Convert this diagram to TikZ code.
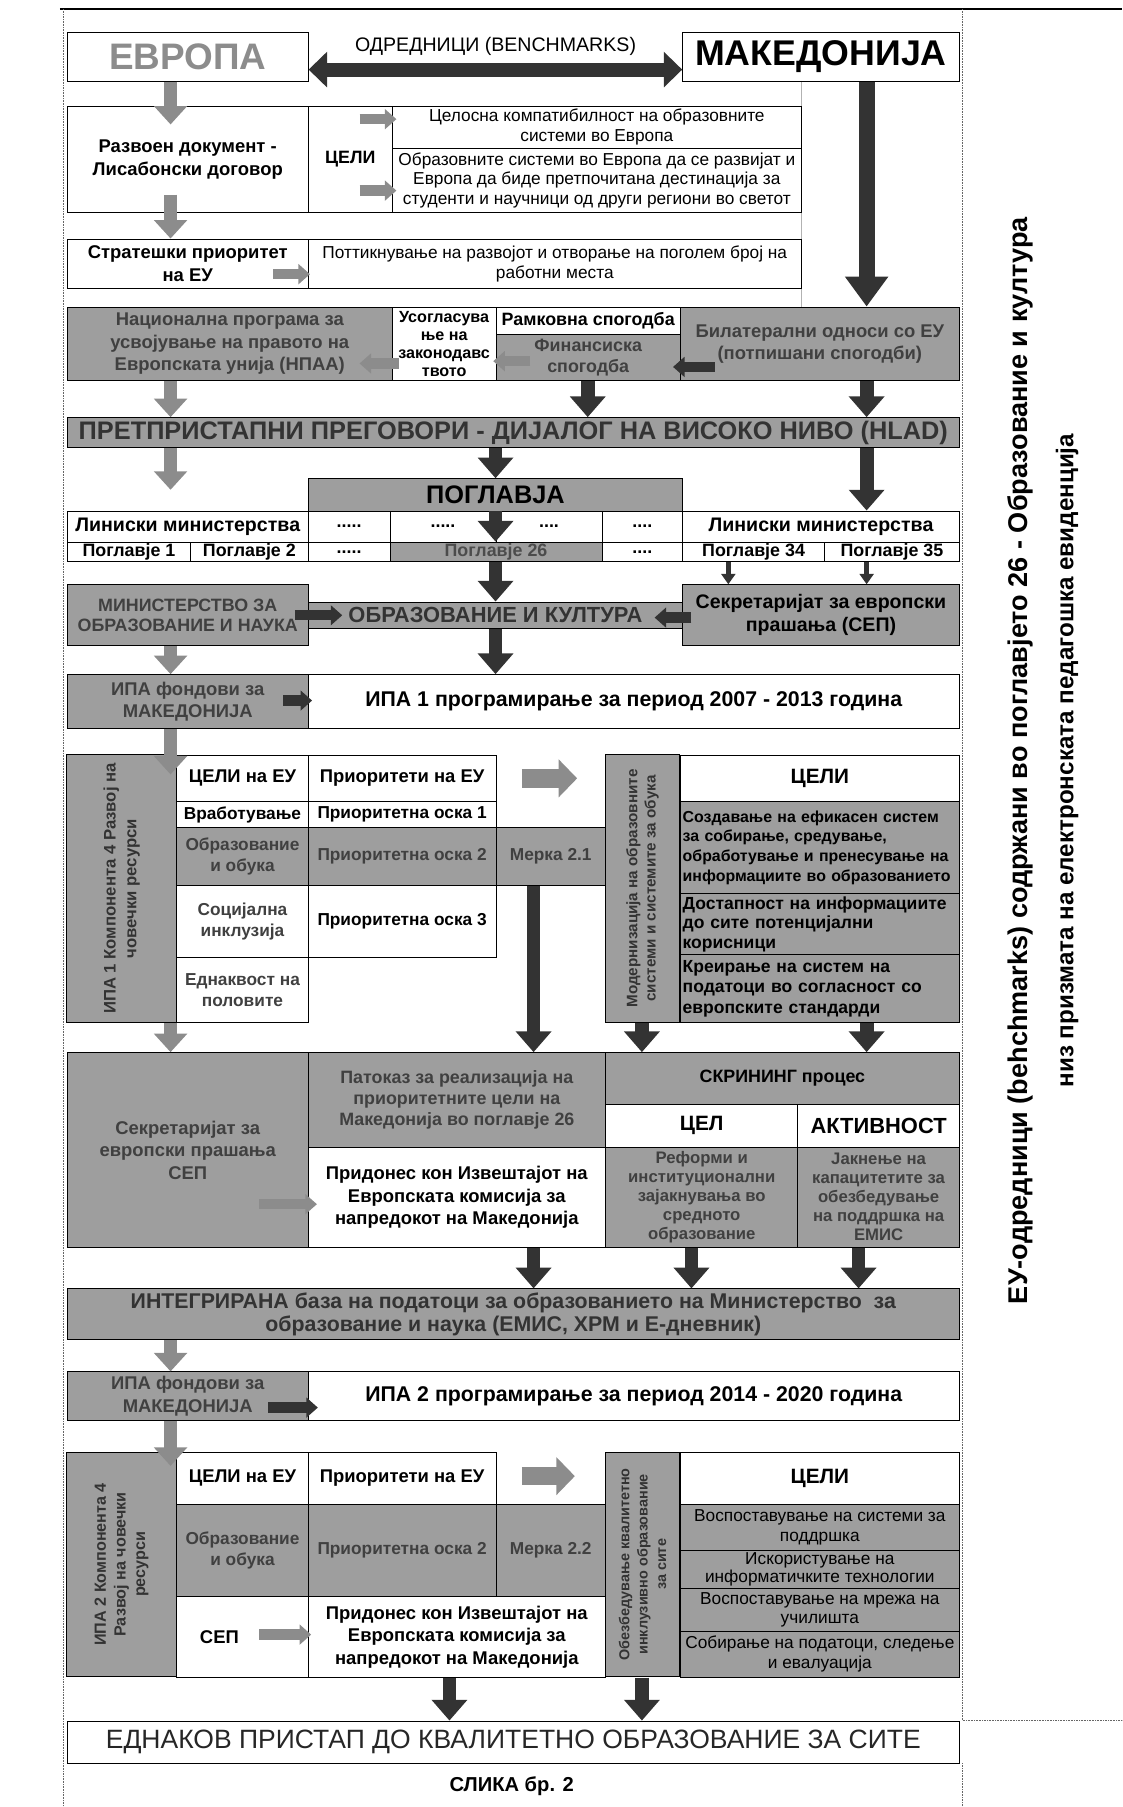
\documentclass[tikz,border=0pt]{standalone}
\usepackage{fontspec}
\setmainfont{Liberation Sans}
\usetikzlibrary{arrows.meta,calc}

\definecolor{boxgrey}{gray}{0.62}
\definecolor{arrgrey}{gray}{0.55}
\definecolor{arrdark}{gray}{0.2}

\tikzset{
  cell/.style={draw=black,line width=0.8pt,inner sep=1pt,anchor=north west,align=center},
  grey/.style={fill=boxgrey},
  fn/.style={font=\fontsize{15}{17}\selectfont},
  fb/.style={font=\fontsize{16}{19.5}\selectfont\bfseries},
  fm/.style={font=\fontsize{15}{18.5}\selectfont\bfseries},
  fs/.style={font=\fontsize{15.5}{18}\selectfont\bfseries},
  fh/.style={font=\fontsize{18}{20}\selectfont\bfseries},
  garr/.style={line width=12pt,draw=arrgrey,-{Triangle[length=16pt,width=28pt]}},
  darr/.style={line width=12pt,draw=arrdark,-{Triangle[length=18pt,width=30pt]}},
  thinarr/.style={line width=4pt,draw=arrdark,-{Triangle[length=9pt,width=12pt]}},
  sgarr/.style={line width=9pt,draw=arrgrey,-{Triangle[length=10pt,width=17pt]}},
  sdarr/.style={line width=9pt,draw=arrdark,-{Triangle[length=10pt,width=17pt]}},
  hgarr/.style={line width=16pt,draw=arrgrey,-{Triangle[length=16pt,width=32pt]}},
}

% cell: name, x, y (top left), width, height, style, text
\newcommand{\cellnode}[7]{\node[cell,#6,minimum width=#4pt,minimum height=#5pt] (#1) at (#2,#3) {#7};}
% same, text turned by 90 degrees
\newcommand{\vcellnode}[7]{\node[cell,#6,anchor=center,rotate=90,minimum width=#5pt,minimum height=#4pt] (#1) at ({#2+#4/2},{#3+#5/2}) {#7};}

\begin{document}
\begin{tikzpicture}[x=1pt,y=-1pt]
  \useasboundingbox (0,0) rectangle (974,1568);
  % frame
  \draw[line width=1.5pt] (52,8) -- (974,8);
  \draw[densely dotted,black!60] (55,8) -- (55,1568);
  \draw[densely dotted,black!60] (835,8) -- (835,1493) -- (974,1493);
  \draw[densely dotted,black!60] (835,1530) -- (835,1568);
  \draw[black!30] (695,70) -- (695,266);

  \coordinate (xl) at (148,0);
  \coordinate (xb) at (390,0);
  \coordinate (xc) at (430,0);
  \coordinate (xm) at (463,0);
  \coordinate (xf) at (510,0);
  \coordinate (xs) at (557,0);
  \coordinate (xt) at (600,0);
  \coordinate (xp) at (632,0);
  \coordinate (xa) at (745,0);
  \coordinate (xr) at (752,0);

  % top
  \cellnode{evr}{58}{28}{209}{42}{font=\fontsize{32}{34}\selectfont\bfseries,text=black!45}{ЕВРОПА}
  \cellnode{mkd}{592}{28}{240}{42}{font=\fontsize{31}{34}\selectfont\bfseries}{МАКЕДОНИЈА}
  \node[font=\fontsize{17}{19}\selectfont] (odr) at (430,40) {ОДРЕДНИЦИ (BENCHMARKS)};

  \cellnode{razv}{58}{92}{209}{92}{fb}{Развоен документ -\\Лисабонски договор}
  \cellnode{celi}{267}{92}{73}{92}{fs}{ЦЕЛИ}
  \cellnode{celA}{340}{92}{355}{36}{fn}{Целосна компатибилност на образовните\\системи во Европа}
  \cellnode{celB}{340}{128}{355}{56}{fn}{Образовните системи во Европа да се развијат и\\Европа да биде претпочитана дестинација за\\студенти и научници од други региони во светот}

  \cellnode{strat}{58}{207}{209}{43}{fb}{Стратешки приоритет\\на ЕУ}
  \cellnode{pott}{267}{207}{428}{43}{fn}{Поттикнување на развојот и отворање на поголем број на\\работни места}

  \cellnode{npaa}{58}{266}{282}{64}{grey,fb,text=black!75}{Национална програма за\\усвојување на правото на\\Европската унија (НПАА)}
  \cellnode{usog}{340}{266}{90}{64}{font=\fontsize{14}{15.5}\selectfont\bfseries}{Усогласува\\ње на\\законодавс\\твото}
  \cellnode{ramk}{430}{266}{160}{24}{fs}{Рамковна спогодба}
  \cellnode{fin}{430}{290}{160}{40}{grey,fs,text=black!75}{Финансиска\\спогодба}
  \cellnode{bil}{590}{266}{242}{64}{grey,fb,text=black!75}{Билатерални односи со ЕУ\\(потпишани спогодби)}

  \cellnode{pret}{58}{362}{774}{26}{grey,inner sep=0pt,font=\fontsize{22}{24}\selectfont\bfseries,text=black!80}{ПРЕТПРИСТАПНИ ПРЕГОВОРИ - ДИЈАЛОГ НА ВИСОКО НИВО (HLAD)}

  % chapters
  \cellnode{pogl}{267}{415}{325}{28}{grey,inner sep=0pt,font=\fontsize{22}{24}\selectfont\bfseries}{ПОГЛАВЈА}
  \cellnode{linA}{58}{443}{209}{27}{font=\fontsize{17}{19}\selectfont\bfseries}{Линиски министерства}
  \cellnode{dA}{267}{443}{71}{27}{fs}{.....}
  \cellnode{dB}{338}{443}{92}{27}{fs}{.....}
  \cellnode{dC}{430}{443}{92}{27}{fs}{....}
  \cellnode{dD}{522}{443}{70}{27}{fs}{....}
  \cellnode{linB}{592}{443}{240}{27}{font=\fontsize{17}{19}\selectfont\bfseries}{Линиски министерства}
  \cellnode{pA}{58}{470}{107}{17}{fs,inner sep=0pt}{Поглавје 1}
  \cellnode{pB}{165}{470}{102}{17}{fs,inner sep=0pt}{Поглавје 2}
  \cellnode{dE}{267}{470}{71}{17}{fs,inner sep=0pt}{.....}
  \cellnode{p26}{338}{470}{184}{17}{grey,fs,inner sep=0pt,text=black!70}{Поглавје 26}
  \cellnode{dF}{522}{470}{70}{17}{fs,inner sep=0pt}{....}
  \cellnode{pC}{592}{470}{123}{17}{fs,inner sep=0pt}{Поглавје 34}
  \cellnode{pD}{715}{470}{117}{17}{fs,inner sep=0pt}{Поглавје 35}

  \cellnode{mon}{58}{507}{209}{53}{grey,fs,text=black!75}{МИНИСТЕРСТВО ЗА\\ОБРАЗОВАНИЕ И НАУКА}
  \cellnode{oik}{267}{522}{325}{23}{grey,inner sep=0pt,font=\fontsize{19}{21}\selectfont\bfseries,text=black!80}{ОБРАЗОВАНИЕ И КУЛТУРА}
  \cellnode{sep}{592}{507}{240}{53}{grey,font=\fontsize{17}{20}\selectfont\bfseries}{Секретаријат за европски\\прашања (СЕП)}

  \cellnode{ipafA}{58}{585}{209}{47}{grey,fb,text=black!75}{ИПА фондови за\\МАКЕДОНИЈА}
  \cellnode{ipaA}{267}{585}{565}{47}{font=\fontsize{18.5}{21}\selectfont\bfseries}{ИПА 1 програмирање за период 2007 - 2013 година}

  % IPA 1
  \vcellnode{komA}{58}{655}{95}{232}{grey,font=\fontsize{14.5}{18}\selectfont\bfseries,text=black!80}{ИПА 1 Компонента 4 Развој на\\човечки ресурси}
  \cellnode{ceuA}{153}{655}{114}{40}{fb}{ЦЕЛИ на ЕУ}
  \cellnode{vrab}{153}{695}{114}{23}{fm,inner sep=0pt}{Вработување}
  \cellnode{obuA}{153}{718}{114}{50}{grey,fm,text=black!75}{Образование\\и обука}
  \cellnode{soc}{153}{768}{114}{62}{fm,text=black!75}{Социјална\\инклузија}
  \cellnode{edn}{153}{830}{114}{57}{fm,text=black!75}{Еднаквост на\\половите}
  \cellnode{peuA}{267}{655}{163}{40}{fb}{Приоритети на ЕУ}
  \cellnode{poA}{267}{695}{163}{23}{fm,inner sep=0pt}{Приоритетна оска 1}
  \cellnode{poB}{267}{718}{163}{50}{grey,fm,text=black!75}{Приоритетна оска 2}
  \cellnode{poC}{267}{768}{163}{62}{fm}{Приоритетна оска 3}
  \cellnode{mrkA}{430}{718}{95}{50}{grey,fm,text=black!75}{Мерка 2.1}
  \vcellnode{modr}{525}{655}{65}{232}{grey,font=\fontsize{13.2}{16}\selectfont\bfseries,text=black!80}{Модернизација на образовните\\системи и системите за обука}
  \cellnode{celiA}{590}{655}{242}{40}{fh}{ЦЕЛИ}
  \cellnode{gA}{590}{695}{242}{80}{grey,font=\fontsize{13.8}{17}\selectfont\bfseries,align=left,text width=238pt}{Создавање на ефикасен систем\\за собирање, средување,\\обработување и пренесување на\\информациите во образованието}
  \cellnode{gB}{590}{775}{242}{53}{grey,font=\fontsize{15.2}{17}\selectfont\bfseries,align=left,text width=238pt}{Достапност на информациите\\до сите потенцијални\\корисници}
  \cellnode{gC}{590}{828}{242}{59}{grey,font=\fontsize{15.2}{18}\selectfont\bfseries,align=left,text width=238pt}{Креирање на систем на\\податоци во согласност со\\европските стандарди}

  \cellnode{sepB}{58}{913}{209}{169}{grey,fb,text=black!75}{Секретаријат за\\европски прашања\\СЕП}
  \cellnode{pat}{267}{913}{258}{82}{grey,fs,text=black!75}{Патоказ за реализација на\\приоритетните цели на\\Македонија во поглавје 26}
  \cellnode{pridA}{267}{995}{258}{87}{fb}{Придонес кон Извештајот на\\Европската комисија за\\напредокот на Македонија}
  \cellnode{skr}{525}{913}{307}{45}{grey,fs}{СКРИНИНГ процес}
  \cellnode{cel}{525}{958}{167}{37}{fh}{ЦЕЛ}
  \cellnode{akt}{692}{958}{140}{37}{font=\fontsize{19}{21}\selectfont\bfseries}{АКТИВНОСТ}
  \cellnode{ref}{525}{995}{167}{87}{grey,font=\fontsize{14.5}{16.5}\selectfont\bfseries,text=black!75}{Реформи и\\институционални\\зајакнувања во\\средното\\образование}
  \cellnode{jak}{692}{995}{140}{87}{grey,font=\fontsize{14.5}{16.5}\selectfont\bfseries,text=black!75}{Јакнење на\\капацитетите за\\обезбедување\\на поддршка на\\ЕМИС}

  \cellnode{intg}{58}{1118}{774}{44}{grey,font=\fontsize{18.5}{20}\selectfont\bfseries,text=black!80}{ИНТЕГРИРАНА база на податоци за образованието на Министерство\ \ за\\образование и наука (ЕМИС, ХРМ и Е-дневник)}

  \cellnode{ipafB}{58}{1190}{209}{42}{grey,fb,text=black!75}{ИПА фондови за\\МАКЕДОНИЈА}
  \cellnode{ipaB}{267}{1190}{565}{42}{font=\fontsize{18.5}{21}\selectfont\bfseries}{ИПА 2 програмирање за период 2014 - 2020 година}

  % IPA 2
  \vcellnode{komB}{58}{1260}{95}{195}{grey,font=\fontsize{14}{17}\selectfont\bfseries,text=black!80}{ИПА 2 Компонента 4\\Развој на човечки\\ресурси}
  \cellnode{ceuB}{153}{1260}{114}{45}{fb}{ЦЕЛИ на ЕУ}
  \cellnode{obuB}{153}{1305}{114}{80}{grey,fm,text=black!75}{Образование\\и обука}
  \cellnode{sepC}{153}{1385}{114}{70}{fb}{СЕП\hspace{40pt}}
  \cellnode{peuB}{267}{1260}{163}{45}{fb}{Приоритети на ЕУ}
  \cellnode{poD}{267}{1305}{163}{80}{grey,fm,text=black!75}{Приоритетна оска 2}
  \cellnode{mrkB}{430}{1305}{95}{80}{grey,fm,text=black!75}{Мерка 2.2}
  \cellnode{pridB}{267}{1385}{258}{70}{fb}{Придонес кон Извештајот на\\Европската комисија за\\напредокот на Македонија}
  \vcellnode{obz}{525}{1260}{65}{195}{grey,font=\fontsize{12.5}{16}\selectfont\bfseries,text=black!80}{Обезбедување квалитетно\\инклузивно образование\\за сите}
  \cellnode{celiB}{590}{1260}{242}{45}{fh}{ЦЕЛИ}
  \cellnode{hA}{590}{1305}{242}{40}{grey,fn}{Воспоставување на системи за\\поддршка}
  \cellnode{hB}{590}{1345}{242}{33}{grey,font=\fontsize{15}{15.5}\selectfont}{Искористување на\\информатичките технологии}
  \cellnode{hC}{590}{1378}{242}{37}{grey,fn}{Воспоставување на мрежа на\\училишта}
  \cellnode{hD}{590}{1415}{242}{40}{grey,fn}{Собирање на податоци, следење\\и евалуација}

  \cellnode{ednak}{58}{1493}{774}{37}{font=\fontsize{23}{25}\selectfont,text=black!85}{ЕДНАКОВ ПРИСТАП ДО КВАЛИТЕТНО ОБРАЗОВАНИЕ ЗА СИТЕ}
  \node[font=\fontsize{17.5}{19}\selectfont\bfseries] (slika) at (444,1550) {СЛИКА бр. 2};

  \node[rotate=90,align=center,font=\fontsize{21}{40}\selectfont\bfseries] (ttl) at (905,660)
    {{\fontsize{23.5}{40}\selectfont ЕУ-одредници (behchmarks) содржани во поглавјето 26 - Образование и култура}\\низ призмата на електронската педагошка евиденција};

  % arrows
  \draw[line width=12pt,draw=arrdark,{Triangle[length=16pt,width=30pt]}-{Triangle[length=16pt,width=30pt]}]
    ([yshift=-11pt]evr.east) -- ([yshift=-11pt]mkd.west);
  \draw[garr] (evr.south -| xl) -- ($(razv.north -| xl)+(0,16)$);
  \draw[garr] ($(razv.south -| xl)+(0,-16)$) -- (strat.north -| xl);
  \draw[sgarr] ($(celA.west)+(-28,-7)$) -- ($(celA.west)+(4,-7)$);
  \draw[sgarr] ($(celB.west)+(-28,9)$) -- ($(celB.west)+(4,9)$);
  \draw[sgarr] ($(pott.west)+(-30,9)$) -- ($(pott.west)+(2,9)$);
  \draw[darr,line width=14pt,-{Triangle[length=26pt,width=36pt]}] (mkd.south -| xr) -- (bil.north -| xr);

  \draw[sgarr] ($(usog.west)+(6,17)$) -- ($(usog.west)+(-28,17)$);
  \draw[sgarr] ($(fin.west)+(30,3)$) -- ($(fin.west)+(-2,3)$);
  \draw[sdarr] ($(bil.west)+(30,20)$) -- ($(bil.west)+(-6,20)$);
  \draw[garr] (npaa.south -| xl) -- (pret.north -| xl);
  \draw[darr] (fin.south -| xf) -- (pret.north -| xf);
  \draw[darr] (bil.south -| xr) -- (pret.north -| xr);

  \draw[garr] (pret.south -| xl) -- ($(linA.north -| xl)+(0,-18)$);
  \draw[darr] (pret.south -| xc) -- (pogl.north -| xc);
  \draw[darr] (pret.south -| xr) -- (linB.north -| xr);
  \draw[darr] (pogl.south -| xc) -- (p26.north -| xc);
  \draw[darr] (p26.south -| xc) -- (oik.north -| xc);
  \draw[thinarr] (pC.south -| xp) -- (sep.north -| xp);
  \draw[thinarr] (pD.south -| xr) -- (sep.north -| xr);

  \draw[sdarr] ($(mon.east)+(-12,0)$) -- ($(oik.west)+(30,0)$);
  \draw[sdarr] ($(sep.west)+(8,2)$) -- ($(sep.west)+(-24,2)$);
  \draw[darr] (oik.south -| xc) -- (ipaA.north -| xc);
  \draw[garr] (mon.south -| xl) -- (ipafA.north -| xl);
  \draw[sdarr] ($(ipafA.east)+(-22,-1)$) -- ($(ipafA.east)+(3,-1)$);

  \draw[garr] (ipafA.south -| xl) -- ($(ceuA.north -| xl)+(0,17)$);
  \draw[hgarr] ($(peuA.east)+(22,0)$) -- ($(peuA.east)+(70,0)$);
  \draw[darr] (mrkA.south -| xm) -- (pat.north -| xm);
  \draw[garr] (edn.south -| xl) -- (sepB.north -| xl);
  \draw[darr] (gC.south -| xs) -- (skr.north -| xs);
  \draw[darr] (gC.south -| xr) -- (skr.north -| xr);

  \draw[sgarr] ($(pridA.west)+(-42,6)$) -- ($(pridA.west)+(8,6)$);
  \draw[darr] (pridA.south -| xm) -- (intg.north -| xm);
  \draw[darr] (ref.south -| xt) -- (intg.north -| xt);
  \draw[darr] (jak.south -| xa) -- (intg.north -| xa);

  \draw[garr] (intg.south -| xl) -- (ipafB.north -| xl);
  \draw[sdarr] ($(ipafB.east)+(-35,10)$) -- ($(ipafB.east)+(8,10)$);
  \draw[garr] (ipafB.south -| xl) -- ($(ceuB.north -| xl)+(0,12)$);
  \draw[hgarr] ($(peuB.east)+(22,-2)$) -- ($(peuB.east)+(68,-2)$);
  \draw[sgarr] ($(pridB.west)+(-42,-2)$) -- ($(pridB.west)+(3,-2)$);
  \draw[darr] (pridB.south -| xb) -- (ednak.north -| xb);
  \draw[darr] (hD.south -| xs) -- (ednak.north -| xs);
\end{tikzpicture}
\end{document}
